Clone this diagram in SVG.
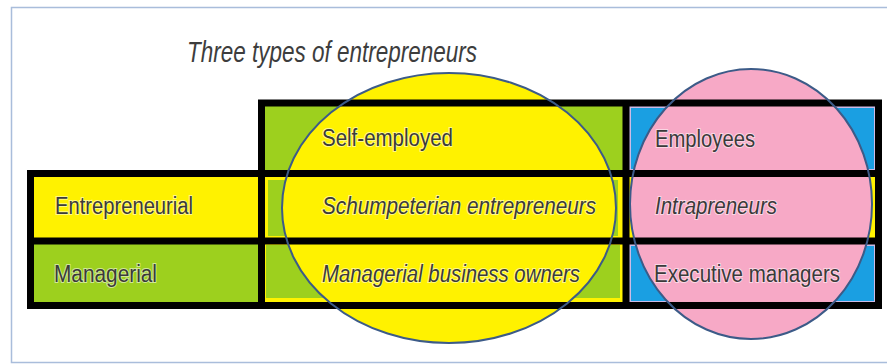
<svg xmlns="http://www.w3.org/2000/svg" width="887" height="364" viewBox="0 0 887 364">
  <style>
    .frame { fill: #ffffff; stroke: #a9bddb; stroke-width: 1.5; }
    .green { fill: #9dd01e; }
    .yellow { fill: #fff200; }
    .blue { fill: #1a9fe2; stroke: #cdbbe6; stroke-width: 2; }
    .ring-y { fill: #fff200; }
    .ring-p { fill: #f7a9c6; }
    .ring-line { fill: none; stroke: #3c5b88; stroke-width: 2; }
    .grid { fill: none; stroke: #000000; stroke-width: 7; stroke-linecap: square; }
    .lbl { font-family: "Liberation Sans", Arial, sans-serif; font-size: 23px; fill: #3a3a3a;
           stroke: #ffffff; stroke-width: 2; stroke-opacity: 0.55; paint-order: stroke; }
    .it { font-style: italic; }
    .title { font-family: "Liberation Sans", Arial, sans-serif; font-size: 29px; font-style: italic; fill: #3d3d3d; }
  </style>

  <!-- outer frame -->
  <rect class="frame" x="11.5" y="7.5" width="900" height="355"/>

  <text class="title" x="187" y="62" textLength="290" lengthAdjust="spacingAndGlyphs">Three types of entrepreneurs</text>

  <!-- cell fills -->
  <g id="cells">
    <rect id="cell-self-employed" class="green" x="262" y="104" width="362" height="70"/>
    <rect id="cell-employees" class="blue" x="630" y="107" width="245" height="63"/>
    <rect id="cell-entrepreneurial" class="yellow" x="31" y="174" width="231" height="67"/>
    <g id="cell-schumpeter">
      <rect class="yellow" x="262" y="174" width="364" height="67"/>
      <rect class="green" x="268" y="180" width="350" height="56"/>
    </g>
    <rect id="cell-intra" class="yellow" x="626" y="174" width="253" height="67"/>
    <rect id="cell-managerial" class="green" x="31" y="241" width="231" height="65"/>
    <g id="cell-owners">
      <rect class="yellow" x="262" y="241" width="364" height="65"/>
      <rect class="green" x="266" y="245" width="354" height="53"/>
    </g>
    <rect id="cell-executive" class="blue" x="630" y="245" width="245" height="57"/>
  </g>

  <!-- group ellipses -->
  <g id="self-employed-ring">
    <ellipse class="ring-y" cx="449" cy="208" rx="167" ry="135"/>
  </g>
  <g id="employees-ring">
    <ellipse class="ring-p" cx="751" cy="204" rx="121" ry="135"/>
  </g>

  <!-- table rules -->
  <g id="connectors">
    <path class="grid" d="M261.5 103 H878.5 M30.5 173.5 H878.5 M30.5 241 H878.5 M30.5 305.5 H878.5
                          M30.5 173.5 V305.5 M261.5 103 V305.5 M626 103 V305.5 M878.5 103 V305.5"/>
  </g>

  <!-- ellipse outlines -->
  <ellipse class="ring-line" cx="449" cy="208" rx="167" ry="135"/>
  <ellipse class="ring-line" cx="751" cy="204" rx="121" ry="135"/>

  <!-- labels -->
  <g id="labels">
    <text class="lbl" x="322" y="146" textLength="131" lengthAdjust="spacingAndGlyphs">Self-employed</text>
    <text class="lbl" x="655" y="147" textLength="100" lengthAdjust="spacingAndGlyphs">Employees</text>
    <text class="lbl" x="55" y="214" textLength="138" lengthAdjust="spacingAndGlyphs">Entrepreneurial</text>
    <text class="lbl it" x="322" y="214" textLength="274" lengthAdjust="spacingAndGlyphs">Schumpeterian entrepreneurs</text>
    <text class="lbl it" x="655" y="214" textLength="122" lengthAdjust="spacingAndGlyphs">Intrapreneurs</text>
    <text class="lbl" x="54" y="282" textLength="103" lengthAdjust="spacingAndGlyphs">Managerial</text>
    <text class="lbl it" x="322" y="282" textLength="258" lengthAdjust="spacingAndGlyphs">Managerial business owners</text>
    <text class="lbl" x="654" y="282" textLength="186" lengthAdjust="spacingAndGlyphs">Executive managers</text>
  </g>
</svg>
